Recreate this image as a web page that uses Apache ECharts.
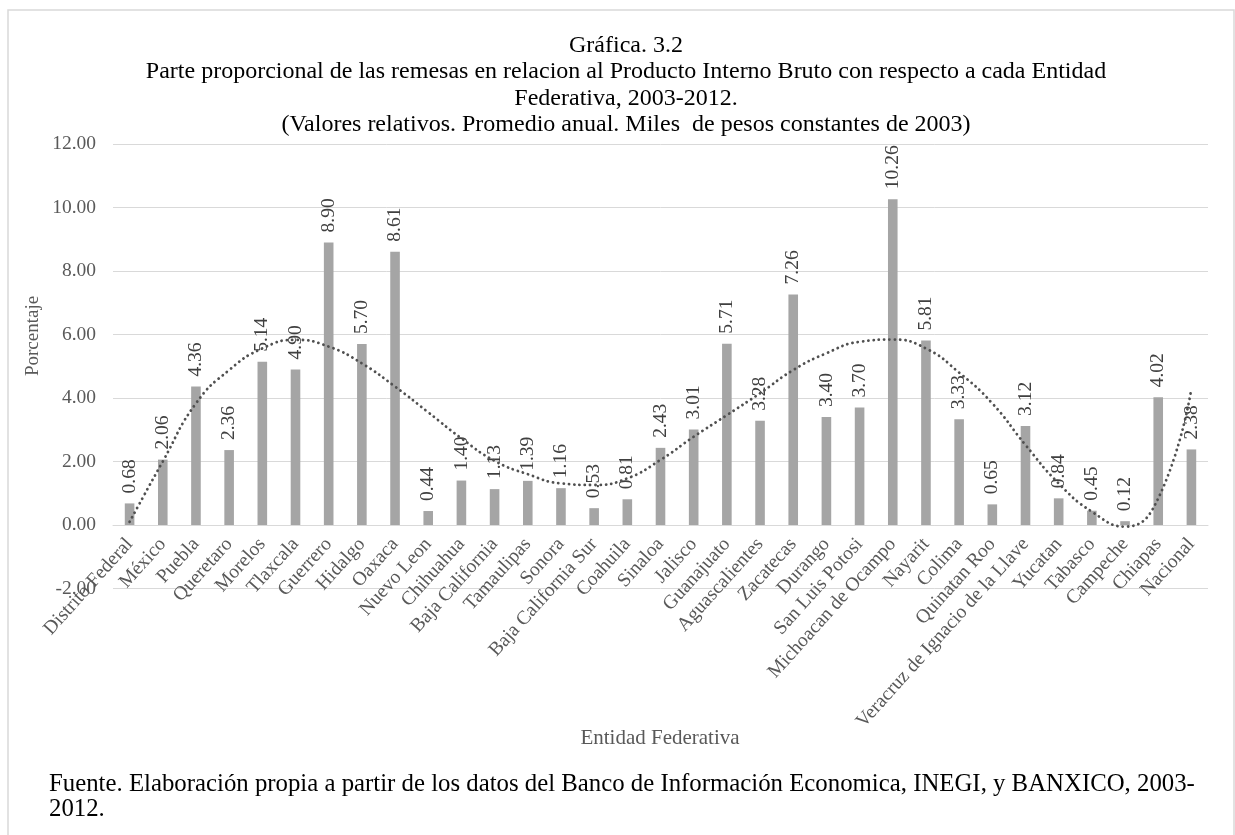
<!DOCTYPE html>
<html>
<head>
<meta charset="utf-8">
<title>Remesas / PIB por Entidad Federativa</title>
<script src="https://cdn.jsdelivr.net/npm/echarts@6/dist/echarts.min.js"></script>
<style>
  html, body { margin: 0; padding: 0; background: #fff; }
  #chart { width: 1235px; height: 835px; }
</style>
</head>
<body>
<div id="chart"></div>
<script>
// Entidades federativas (orden del eje horizontal)
const entidades = [
  'Distrito Federal', 'México', 'Puebla', 'Queretaro', 'Morelos', 'Tlaxcala',
  'Guerrero', 'Hidalgo', 'Oaxaca', 'Nuevo Leon', 'Chihuahua', 'Baja California',
  'Tamaulipas', 'Sonora', 'Baja California Sur', 'Coahuila', 'Sinaloa', 'Jalisco',
  'Guanajuato', 'Aguascalientes', 'Zacatecas', 'Durango', 'San Luis Potosi',
  'Michoacan de Ocampo', 'Nayarit', 'Colima', 'Quinatan Roo',
  'Veracruz de Ignacio de la Llave', 'Yucatan', 'Tabasco', 'Campeche', 'Chiapas',
  'Nacional'
];

// Remesas como porcentaje del PIB (promedio anual 2003-2012)
const remesasPIB = [
  0.68, 2.06, 4.36, 2.36, 5.14, 4.90, 8.90, 5.70, 8.61, 0.44, 1.40, 1.13,
  1.39, 1.16, 0.53, 0.81, 2.43, 3.01, 5.71, 3.28, 7.26, 3.40, 3.70, 10.26,
  5.81, 3.33, 0.65, 3.12, 0.84, 0.45, 0.12, 4.02, 2.38
];

// Línea de tendencia polinómica, valor en cada entidad
const tendencia = [
  0.10, 2.00, 3.83, 4.88, 5.56, 5.83, 5.62, 5.09, 4.36, 3.55, 2.73, 2.02,
  1.60, 1.31, 1.26, 1.47, 2.05, 2.78, 3.46, 4.15, 4.88, 5.41, 5.77, 5.84,
  5.56, 4.80, 3.83, 2.52, 1.31, 0.42, -0.05, 0.84, 4.30
];

// Marcas del eje vertical
const yMin = -2, yMax = 12, yPaso = 2;

const titulo = [
  'Gráfica. 3.2',
  'Parte proporcional de las remesas en relacion al Producto Interno Bruto con respecto a cada Entidad',
  'Federativa, 2003-2012.',
  '(Valores relativos. Promedio anual. Miles  de pesos constantes de 2003)'
];
const fuente = [
  'Fuente. Elaboración propia a partir de los datos del Banco de Información Economica, INEGI, y BANXICO, 2003-',
  '2012.'
];

const serif = '"Liberation Serif", "Times New Roman", serif';
const gridTop = 144, gridBottom = 246.5;
const plotH = 835 - gridTop - gridBottom;
// the category axis sits on the zero line, above the -2 gridline
const zeroOffset = -plotH * (0 - yMin) / (yMax - yMin);

const chart = echarts.init(document.getElementById('chart'));

chart.setOption({
  backgroundColor: '#ffffff',
  animation: false,
  title: {
    text: titulo.join('\n'),
    left: 621,
    textAlign: 'center',
    top: 27,
    textStyle: {
      fontFamily: serif, fontSize: 24, fontWeight: 'normal',
      color: '#000000', lineHeight: 26.5
    }
  },
  grid: { left: 113, right: 27, top: gridTop, bottom: gridBottom },
  xAxis: {
    type: 'category',
    data: entidades,
    offset: zeroOffset,
    axisLine: { onZero: false, lineStyle: { color: '#d9d9d9', width: 1 } },
    axisTick: { show: false },
    axisLabel: {
      interval: 0, rotate: 48, margin: 16,
      fontFamily: serif, fontSize: 19.5, color: '#595959'
    }
  },
  yAxis: {
    type: 'value',
    min: yMin, max: yMax, interval: yPaso,
    axisLine: { show: false },
    axisTick: { show: false },
    splitLine: { lineStyle: { color: '#d9d9d9', width: 1 } },
    axisLabel: {
      margin: 17, fontFamily: serif, fontSize: 19.5, color: '#595959',
      formatter: v => v.toFixed(2)
    }
  },
  series: [
    {
      type: 'bar',
      data: remesasPIB,
      barWidth: 9.6,
      itemStyle: { color: '#a5a5a5' },
      label: {
        show: true, position: 'top', rotate: 90,
        align: 'left', verticalAlign: 'middle', distance: 10,
        fontFamily: serif, fontSize: 19.5, color: '#404040',
        formatter: p => p.value.toFixed(2)
      },
      z: 2
    },
    {
      type: 'line',
      data: tendencia,
      smooth: 0.5,
      symbol: 'none',
      lineStyle: { color: '#505050', width: 2.8, type: [0.1, 5.2], cap: 'round' },
      z: 3
    }
  ],
  graphic: [
    {
      type: 'rect', silent: true, z: -1,
      shape: { x: 8, y: 10, width: 1226, height: 840 },
      style: { fill: 'none', stroke: '#d9d9d9', lineWidth: 1.5 }
    },
    {
      type: 'text', x: 33, y: 336, rotation: Math.PI / 2,
      style: {
        text: 'Porcentaje', fontFamily: serif, fontSize: 19, fill: '#595959',
        textAlign: 'center', textVerticalAlign: 'middle'
      }
    },
    {
      type: 'text', x: 660, y: 738,
      style: {
        text: 'Entidad Federativa', fontFamily: serif, fontSize: 21, fill: '#595959',
        textAlign: 'center', textVerticalAlign: 'middle'
      }
    },
    {
      type: 'text', x: 49, y: 784,
      style: {
        text: fuente[0], fontFamily: serif, fontSize: 24.8, fill: '#000000',
        textAlign: 'left', textVerticalAlign: 'middle'
      }
    },
    {
      type: 'text', x: 49, y: 809,
      style: {
        text: fuente[1], fontFamily: serif, fontSize: 24.8, fill: '#000000',
        textAlign: 'left', textVerticalAlign: 'middle'
      }
    }
  ]
});
</script>
</body>
</html>
